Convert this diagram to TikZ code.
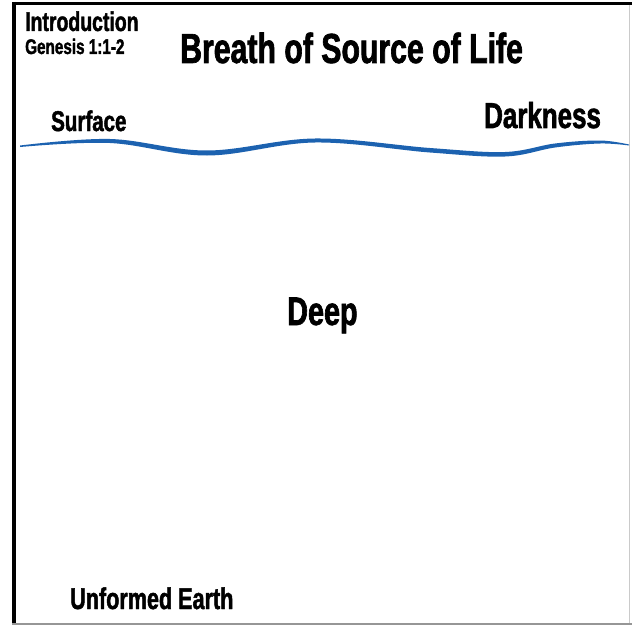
\documentclass[tikz,border=0pt]{standalone}
\usepackage{fontspec}
\newfontfamily\narrowbold{Liberation Sans}[FakeStretch=0.72, FakeBold=1.6]
\definecolor{waveblue}{RGB}{28,98,176}
\definecolor{framegray}{RGB}{150,150,150}
\tikzset{
  heading/.style={font=\narrowbold\bfseries\fontsize{#1}{#1}\selectfont, anchor=base west, inner sep=0pt, text=black},
}

\begin{document}
\begin{tikzpicture}[x=1pt, y=-1pt]
\useasboundingbox (0,0) rectangle (632,626);
\fill[white] (0,0) rectangle (632,626);

% Frame
\draw[line width=3pt] (12,3.5) -- (632,3.5);
\draw[line width=4pt] (14,2) -- (14,623.5);
\draw[framegray, line width=2pt] (12,624) -- (632,624);
\draw[framegray!50, line width=1pt] (629.5,5) -- (629.5,623);

% Surface of the waters
\fill[waveblue] plot[smooth, tension=0.6] coordinates {(20,145.5) (110,139) (207,150.5) (315,138.5) (430,148) (505,152) (555,143.5) (600,140.5) (629,144.5)}
  -- plot[smooth, tension=0.6] coordinates {(629,145.5) (600,143.5) (555,147.5) (505,156.5) (430,152.5) (315,142.5) (207,155.5) (110,143) (20,147)} -- cycle;

% Labels
\node[heading=27] (intro) at (25,31) {Introduction};
\node[heading=21.2] (verse) at (25,54) {Genesis 1:1-2};
\node[heading=42] (title) at (180,63) {Breath of Source of Life};
\node[heading=28.5] (surface) at (51,131) {Surface};
\node[heading=36] (darkness) at (484,128) {Darkness};
\node[heading=40] (deep) at (287,325) {Deep};
\node[heading=30] (earth) at (70,609) {Unformed Earth};

\end{tikzpicture}
\end{document}
